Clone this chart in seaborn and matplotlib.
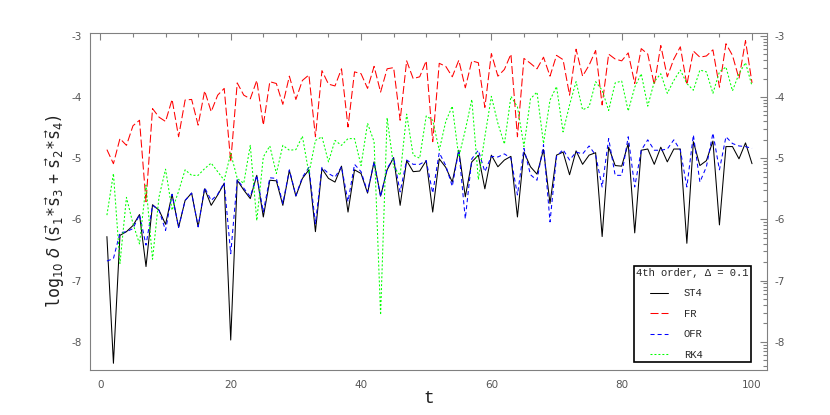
import numpy as np
import matplotlib
matplotlib.use('Agg')
import matplotlib.pyplot as plt
import seaborn as sns
from matplotlib.lines import Line2D
from matplotlib.legend_handler import HandlerLine2D
from matplotlib.ticker import MultipleLocator

# time steps
t = np.arange(1, 101)

st4 = [-6.28, -8.35, -6.26, -6.20, -6.10, -5.92, -6.77, -5.76, -5.85, -6.08,
       -5.59, -6.13, -5.69, -5.57, -6.12, -5.50, -5.77, -5.60, -5.41, -7.97,
       -5.36, -5.52, -5.66, -5.28, -5.96, -5.36, -5.37, -5.77, -5.20, -5.62,
       -5.33, -5.19, -6.20, -5.17, -5.33, -5.39, -5.13, -5.88, -5.19, -5.25,
       -5.57, -5.06, -5.62, -5.19, -4.99, -5.77, -5.04, -5.22, -5.21, -5.04,
       -5.88, -5.01, -5.15, -5.39, -4.87, -5.63, -5.06, -4.95, -5.50, -4.95,
       -5.14, -5.03, -4.97, -5.96, -4.90, -5.14, -5.26, -4.86, -5.74, -4.95,
       -4.90, -5.27, -4.88, -5.10, -4.95, -4.91, -6.28, -4.82, -5.12, -5.13,
       -4.76, -6.22, -4.87, -4.85, -5.10, -4.82, -5.06, -4.85, -4.85, -6.39,
       -4.73, -5.12, -5.04, -4.72, -6.09, -4.81, -4.81, -5.01, -4.75, -5.09]

fr = [-4.86, -5.09, -4.68, -4.79, -4.47, -4.38, -5.71, -4.19, -4.33, -4.40,
      -4.04, -4.65, -4.05, -4.04, -4.46, -3.90, -4.24, -3.97, -3.86, -5.06,
      -3.77, -3.97, -4.03, -3.73, -4.46, -3.75, -3.78, -4.12, -3.66, -4.04,
      -3.73, -3.64, -4.65, -3.57, -3.79, -3.82, -3.54, -4.49, -3.59, -3.62,
      -3.86, -3.50, -3.92, -3.54, -3.52, -4.38, -3.41, -3.70, -3.67, -3.41,
      -4.73, -3.45, -3.50, -3.67, -3.40, -3.85, -3.41, -3.44, -4.17, -3.29,
      -3.66, -3.55, -3.30, -4.65, -3.37, -3.45, -3.54, -3.35, -3.66, -3.32,
      -3.39, -3.97, -3.22, -3.66, -3.48, -3.24, -4.13, -3.30, -3.38, -3.41,
      -3.28, -3.78, -3.21, -3.30, -3.80, -3.16, -3.67, -3.38, -3.18, -3.80,
      -3.25, -3.35, -3.33, -3.23, -3.84, -3.13, -3.32, -3.70, -3.08, -3.77]

ofr = [-6.68, -6.64, -6.22, -6.20, -6.15, -5.92, -6.42, -5.77, -5.85, -6.18,
       -5.59, -6.13, -5.69, -5.57, -6.12, -5.48, -5.69, -5.59, -5.40, -6.56,
       -5.35, -5.49, -5.63, -5.28, -5.88, -5.32, -5.33, -5.74, -5.19, -5.61,
       -5.31, -5.15, -6.07, -5.15, -5.25, -5.31, -5.14, -5.71, -5.10, -5.22,
       -5.55, -5.06, -5.63, -5.17, -4.99, -5.55, -5.03, -5.10, -5.10, -5.04,
       -5.57, -4.91, -5.12, -5.46, -4.87, -5.99, -5.01, -4.87, -5.22, -4.97,
       -4.98, -4.93, -5.00, -5.60, -4.84, -5.27, -5.36, -4.78, -6.04, -4.97,
       -4.86, -5.03, -4.90, -4.93, -4.80, -4.95, -5.47, -4.68, -5.28, -5.28,
       -4.65, -5.47, -4.87, -4.70, -4.87, -4.87, -4.85, -4.70, -4.87, -5.47,
       -4.62, -5.39, -5.14, -4.59, -5.19, -4.65, -4.76, -4.80, -4.81, -4.84]

rk4 = [-5.93, -5.25, -6.72, -5.64, -6.07, -6.40, -5.44, -6.65, -5.63, -5.18,
       -5.85, -5.54, -5.19, -5.28, -5.28, -5.17, -5.08, -5.22, -5.36, -4.92,
       -5.33, -5.41, -4.79, -6.02, -4.98, -4.80, -5.25, -4.79, -4.87, -4.86,
       -4.64, -5.25, -4.71, -4.65, -5.06, -4.71, -4.79, -4.68, -4.68, -5.12,
       -4.43, -4.73, -7.56, -4.34, -5.14, -5.28, -4.28, -4.95, -5.00, -4.31,
       -4.38, -4.87, -4.40, -4.15, -4.98, -4.54, -4.04, -5.35, -4.65, -3.99,
       -4.43, -4.77, -3.99, -4.16, -4.81, -4.03, -3.92, -4.76, -4.05, -3.83,
       -4.57, -4.13, -3.75, -4.21, -4.16, -3.75, -3.89, -4.22, -3.77, -3.74,
       -4.23, -3.84, -3.62, -4.15, -3.75, -3.62, -3.94, -3.73, -3.56, -3.78,
       -3.89, -3.56, -3.59, -3.94, -3.59, -3.51, -3.90, -3.62, -3.44, -3.82]

names = ['ST4', 'FR', 'OFR', 'RK4']
colors = ['black', '#ff0000', '#0000ff', '#00ff00']
styles = ['-', (0, (7.7, 2.9)), (0, (3.9, 2.9)), (0, (1.9, 1.9))]

sns.set_style('white')
plt.rcParams['font.family'] = ['DejaVu Sans']
plt.rcParams['axes.unicode_minus'] = False
plt.rcParams['mathtext.fontset'] = 'dejavusans'

fig = plt.figure(figsize=(8.3, 4.15), dpi=100)
ax = fig.add_axes([0.1084, 0.1084, 0.8157, 0.8128])

for name, vals, col, ls in zip(names, [st4, fr, ofr, rk4], colors, styles):
    sns.lineplot(x=t, y=vals, color=col, linestyle=ls, linewidth=0.75,
                 label=name, ax=ax, legend=False)

ax.set_xlim(-1.6, 102.3)
ax.set_ylim(-8.46, -2.95)

ax.set_xticks(range(0, 101, 20))
ax.xaxis.set_minor_locator(MultipleLocator(5))
ax.set_yticks(range(-8, -2))
# log style minor ticks in every decade
ymin = [d + np.log10(k) for d in range(-9, -3) for k in range(2, 10)]
ymin = [y for y in ymin if -8.46 < y < -2.95]
ax.set_yticks(ymin, minor=True)

for sp in ax.spines.values():
    sp.set_color('#808080')
    sp.set_linewidth(0.8)
ax.tick_params(which='both', direction='in', top=True, right=True,
               color='#808080', width=0.8, labelsize=7.5, labelcolor='#555555')
ax.tick_params(which='major', length=5)
ax.tick_params(which='minor', length=3)
ax.tick_params(axis='y', labelright=True, pad=5.5)
ax.tick_params(axis='x', pad=7)

ax.set_xlabel('t', family='Liberation Mono', fontsize=13, color='#222222', labelpad=0)
ax.set_ylabel(r'$\mathtt{log}_{10}\ \delta\ (\vec{\mathtt{s}}_1\mathtt{*}\vec{\mathtt{s}}_3'
              r'\ \mathtt{+}\ \vec{\mathtt{s}}_2\mathtt{*}\vec{\mathtt{s}}_4)$',
              fontsize=12, color='#222222')
ax.yaxis.set_label_coords(-0.034, 0.471)

mono = {'family': 'Liberation Mono', 'size': 7.6}
leg = ax.legend(loc='lower right', bbox_to_anchor=(0.976, 0.0237), borderaxespad=0,
                title='4th order, \u0394 = 0.1', prop=mono, title_fontproperties=mono,
                alignment='left', frameon=True, fancybox=False, edgecolor='black',
                framealpha=1, handlelength=3.0, handletextpad=1.5, labelspacing=1.0,
                borderpad=0.2, handler_map={Line2D: HandlerLine2D(xpad=1.3)})
leg.get_frame().set_linewidth(1.2)

fig.savefig('out.png', dpi=100)
